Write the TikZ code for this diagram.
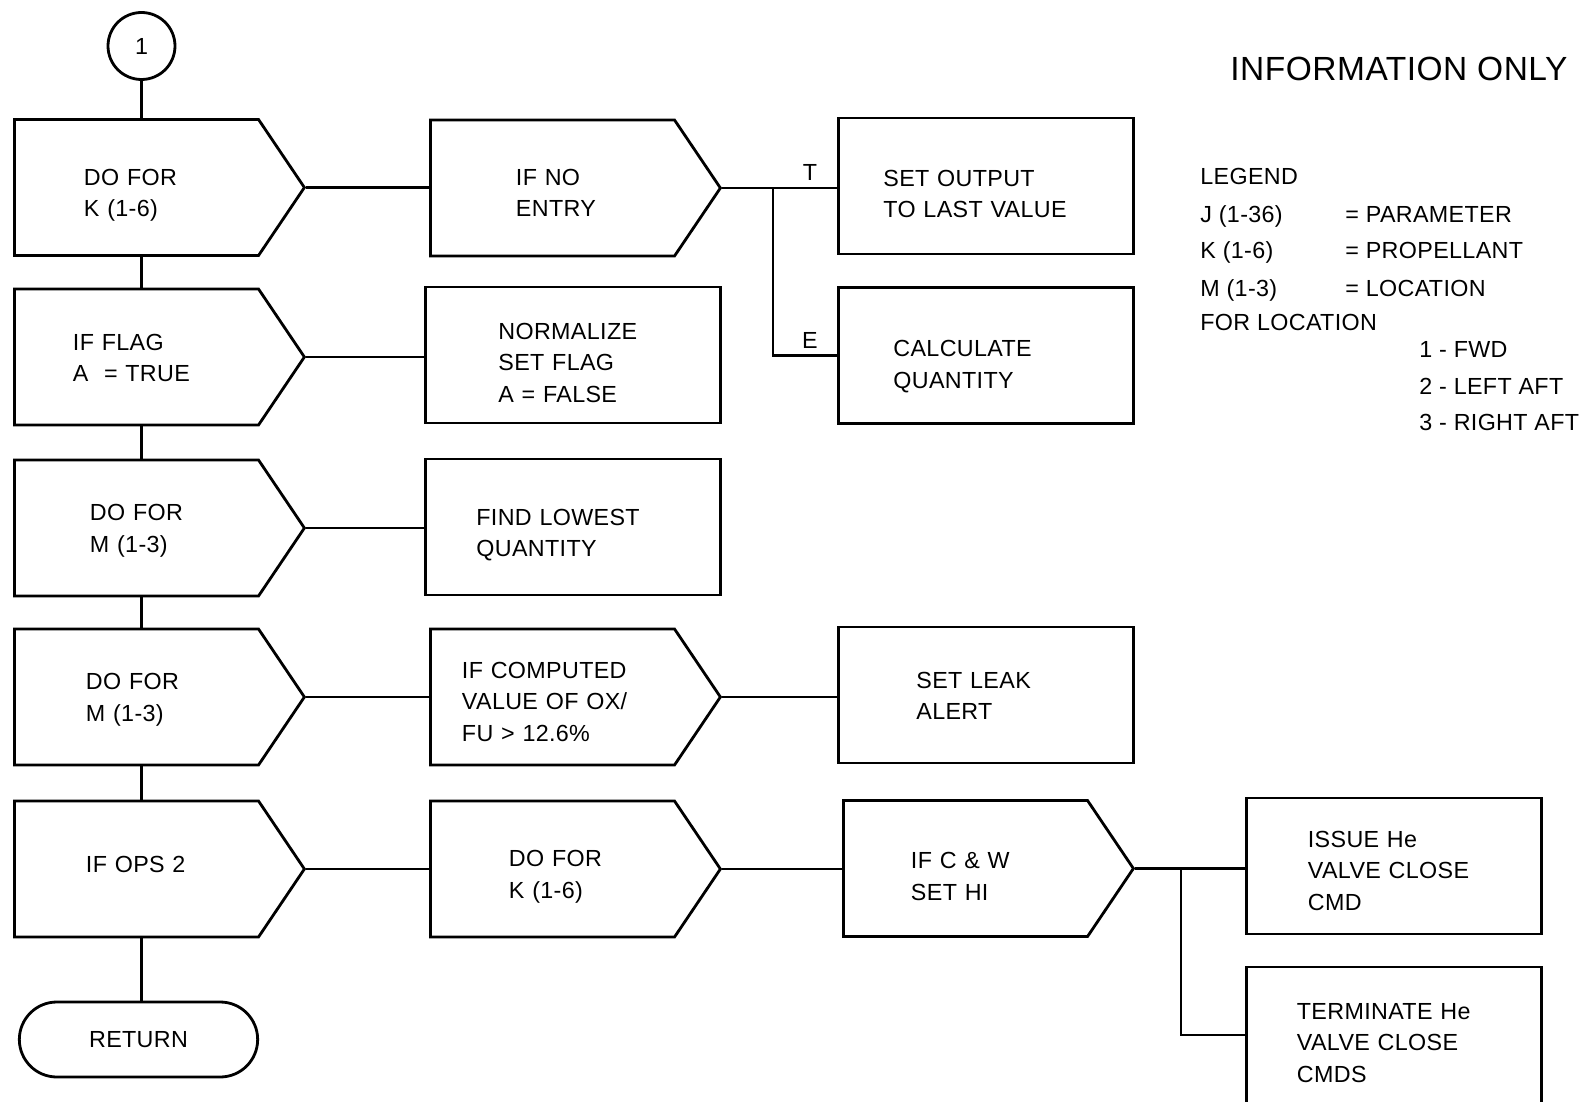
\documentclass[tikz,border=0pt]{standalone}
\usepackage{fontspec}
\setmainfont[LetterSpace=1.5]{Liberation Sans}
\usetikzlibrary{shapes.symbols,shapes.misc}

\begin{document}
\begin{tikzpicture}[x=1pt, y=-1pt,
    font=\fontsize{23.3}{31.5}\selectfont,
    line width=2.8pt,
    loopbox/.style={signal, signal to=east, signal pointer angle=112, draw, minimum width=290, minimum height=136, inner sep=0pt, text width=#1, text height=32pt, align=left, anchor=west},
    stepbox/.style={draw, rectangle, minimum width=295, minimum height=136, inner sep=0pt, text width=#1, text height=32pt, align=left, anchor=west},
    legend/.style={anchor=base west, inner sep=0pt}
]
\useasboundingbox (0,0) rectangle (1583,1102);

% main column
\node[draw, circle, minimum size=67, inner sep=0pt] (start) at (141.5,46) {1};
\node[loopbox=105] (do1) at (13,187.5) {DO~FOR\\K (1-6)};
\node[loopbox=127, text height=18pt] (iff) at (13,357) {IF~FLAG\\A\ \ = TRUE};
\node[loopbox=93, text height=22pt] (dom1) at (13,528) {DO~FOR\\M (1-3)};
\node[loopbox=101, text height=22pt] (dom2) at (13,697) {DO~FOR\\M (1-3)};
\node[loopbox=101, text height=17pt, text depth=10pt] (ops) at (13,869) {IF~OPS~2};
\node[draw, rounded rectangle, minimum width=245, minimum height=75, text depth=0pt] (ret) at (138.5,1039.5) {RETURN};

% second column
\node[loopbox=73, text height=26pt] (noentry) at (429,188) {IF~NO\\ENTRY};
\node[stepbox=149] (norm) at (424,355) {NORMALIZE\\SET FLAG\\A = FALSE};
\node[stepbox=193] (lowest) at (424,527) {FIND LOWEST\\QUANTITY};
\node[loopbox=181, text height=26pt] (comp) at (429,697) {IF COMPUTED\\VALUE OF OX/\\FU > 12.6\%};
\node[loopbox=87] (dok) at (429,869) {DO~FOR\\K (1-6)};

% third column
\node[stepbox=205] (setout) at (837,186) {SET OUTPUT\\TO LAST VALUE};
\node[stepbox=185, text height=38pt] (calc) at (837,355.5) {CALCULATE\\QUANTITY};
\node[stepbox=139, text height=18pt] (leak) at (837,695) {SET LEAK\\ALERT};
\node[loopbox=109] (ifcw) at (842,868.5) {IF C \& W\\SET HI};

% fourth column
\node[stepbox=172, text height=26pt] (issue) at (1245,866) {ISSUE He\\VALVE CLOSE\\CMD};
\node[stepbox=194] (term) at (1245,1035) {TERMINATE He\\VALVE CLOSE\\CMDS};

% branch points and labels
\coordinate (tbr) at (773,188);
\coordinate (cwbr) at (1181,868.5);
\node (lblT) at (810,172) {T};
\node (lblE) at (810,340) {E};

% connectors
\draw (start.south) -- (start.south |- do1.north);
\draw (do1.south -| start) -- (iff.north -| start);
\draw (iff.south -| start) -- (dom1.north -| start);
\draw (dom1.south -| start) -- (dom2.north -| start);
\draw (dom2.south -| start) -- (ops.north -| start);
\draw (ops.south -| start) -- (ret.north -| start);
\draw (do1.east) -- (do1.east -| noentry.west);
\draw (noentry.east) -- (noentry.east -| setout.west);
\draw (tbr) |- (calc.west);
\draw (iff.east) -- (iff.east -| norm.west);
\draw (dom1.east) -- (dom1.east -| lowest.west);
\draw (dom2.east) -- (dom2.east -| comp.west);
\draw (comp.east) -- (comp.east -| leak.west);
\draw (ops.east) -- (ops.east -| dok.west);
\draw (dok.east) -- (dok.east -| ifcw.west);
\draw (ifcw.east) -- (ifcw.east -| issue.west);
\draw (cwbr) |- (term.west);

% legend
\node[legend, font=\fontsize{33.5}{40}\selectfont] (info) at (1229,81) {INFORMATION ONLY};
\node[legend] (leg) at (1199,185) {LEGEND};
\node[legend] (legJ) at (1199,223) {J (1-36)};
\node[legend] (legK) at (1199,259) {K (1-6)};
\node[legend] (legM) at (1199,296) {M (1-3)};
\node[legend] (legJd) at (1344,223) {= PARAMETER};
\node[legend] (legKd) at (1344,259) {= PROPELLANT};
\node[legend] (legMd) at (1344,296) {= LOCATION};
\node[legend] (legloc) at (1199,330) {FOR LOCATION};
\node[legend] (loc1) at (1418,357) {1 - FWD};
\node[legend] (loc2) at (1418,394) {2 - LEFT AFT};
\node[legend] (loc3) at (1418,430) {3 - RIGHT AFT};
\end{tikzpicture}
\end{document}
